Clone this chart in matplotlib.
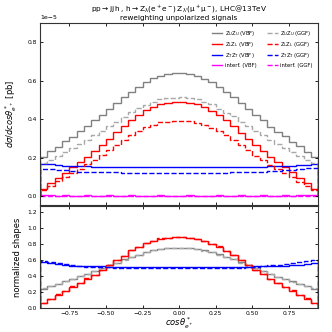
import numpy as np
import matplotlib
matplotlib.use("Agg")
import matplotlib.pyplot as plt

# 38 bins of width 0.05 over cos(theta*) in [-0.95, 0.95]
edges = np.linspace(-0.95, 0.95, 39)

# dsigma/dcos [1e-5 pb]
zuzu_vbf = [0.205, 0.232, 0.257, 0.284, 0.309, 0.336, 0.362, 0.395, 0.421, 0.455,
            0.483, 0.515, 0.541, 0.567, 0.594, 0.612, 0.627, 0.637, 0.641,
            0.640, 0.636, 0.626, 0.610, 0.592, 0.569, 0.543, 0.517, 0.484, 0.454,
            0.422, 0.394, 0.361, 0.335, 0.311, 0.283, 0.258, 0.231, 0.204]
zlzl_vbf = [0.038, 0.066, 0.094, 0.121, 0.149, 0.175, 0.204, 0.232, 0.264, 0.296,
            0.331, 0.362, 0.397, 0.423, 0.446, 0.463, 0.478, 0.485, 0.490,
            0.489, 0.486, 0.477, 0.461, 0.444, 0.424, 0.395, 0.364, 0.330, 0.298,
            0.263, 0.233, 0.202, 0.176, 0.148, 0.122, 0.093, 0.067, 0.037]
ztzt_vbf = [0.168, 0.164, 0.161, 0.158, 0.156, 0.155, 0.154, 0.153, 0.153, 0.152,
            0.152, 0.151, 0.151, 0.151, 0.150, 0.152, 0.151, 0.150, 0.150,
            0.151, 0.150, 0.151, 0.150, 0.150, 0.151, 0.151, 0.152, 0.152, 0.152,
            0.153, 0.153, 0.154, 0.154, 0.155, 0.157, 0.159, 0.162, 0.166]
intf_vbf = [0.002, 0.002, 0.001, 0.002, 0.001, 0.001, 0.002, 0.001, 0.001, 0.002,
            0.001, 0.001, 0.002, 0.001, 0.001, 0.001, 0.002, 0.001, 0.001,
            0.001, 0.002, 0.001, 0.001, 0.001, 0.002, 0.001, 0.001, 0.002, 0.001,
            0.001, 0.002, 0.001, 0.001, 0.002, 0.001, 0.002, 0.002, 0.002]

zuzu_ggf = [0.170, 0.188, 0.208, 0.229, 0.249, 0.270, 0.291, 0.318, 0.339, 0.366,
            0.387, 0.413, 0.436, 0.456, 0.475, 0.491, 0.503, 0.510, 0.512,
            0.513, 0.509, 0.504, 0.490, 0.477, 0.455, 0.434, 0.415, 0.387, 0.365,
            0.340, 0.316, 0.290, 0.268, 0.250, 0.227, 0.209, 0.189, 0.172]
zlzl_ggf = [0.031, 0.052, 0.076, 0.097, 0.120, 0.140, 0.164, 0.185, 0.212, 0.237,
            0.265, 0.289, 0.318, 0.338, 0.357, 0.369, 0.384, 0.386, 0.392,
            0.391, 0.388, 0.382, 0.371, 0.355, 0.340, 0.316, 0.291, 0.263, 0.239,
            0.210, 0.186, 0.162, 0.141, 0.119, 0.098, 0.074, 0.054, 0.030]
ztzt_ggf = [0.141, 0.139, 0.136, 0.133, 0.130, 0.127, 0.125, 0.124, 0.123, 0.123,
            0.122, 0.121, 0.121, 0.120, 0.120, 0.120, 0.120, 0.121, 0.120,
            0.120, 0.120, 0.121, 0.120, 0.120, 0.121, 0.121, 0.122, 0.122, 0.123,
            0.125, 0.127, 0.129, 0.131, 0.134, 0.137, 0.140, 0.143, 0.146]
intf_ggf = [0.000, 0.001, 0.000, -0.001, 0.000, 0.001, 0.000, 0.000, -0.001, 0.000,
            0.001, 0.000, 0.000, -0.001, 0.000, 0.000, 0.001, 0.000, 0.000,
            0.000, 0.000, 0.001, 0.000, 0.000, -0.001, 0.000, 0.000, 0.001, 0.000,
            -0.001, 0.000, 0.000, 0.001, 0.000, -0.001, 0.000, 0.001, 0.000]

series = [
    (zuzu_vbf, r'$\mathrm{Z_UZ_U}$ (VBF)', 'gray', '-'),
    (zlzl_vbf, r'$\mathrm{Z_LZ_L}$ (VBF)', 'red', '-'),
    (ztzt_vbf, r'$\mathrm{Z_TZ_T}$ (VBF)', 'blue', '-'),
    (intf_vbf, 'interf. (VBF)', 'magenta', '-'),
    (zuzu_ggf, r'$\mathrm{Z_UZ_U}$ (GGF)', '#a8a8a8', '--'),
    (zlzl_ggf, r'$\mathrm{Z_LZ_L}$ (GGF)', 'red', '--'),
    (ztzt_ggf, r'$\mathrm{Z_TZ_T}$ (GGF)', 'blue', '--'),
    (intf_ggf, 'interf. (GGF)', 'magenta', '--'),
]

fig = plt.figure(figsize=(3.32, 3.32), dpi=100)
ax1 = fig.add_axes([0.1205, 0.384, 0.838, 0.546])
ax2 = fig.add_axes([0.1205, 0.0714, 0.838, 0.3095])

width = np.diff(edges)
for vals, lab, col, ls in series:
    v = np.array(vals) * 1e-5
    ax1.stairs(v, edges, color=col, ls=ls, lw=1.0, label=lab)
    if 'interf' in lab:
        continue
    norm = np.array(vals) / (np.sum(np.array(vals) * width))
    ax2.stairs(norm, edges, color=col, ls=ls, lw=1.0)

ax1.set_xlim(-0.95, 0.95)
ax1.set_ylim(-0.045e-5, 0.9e-5)
ax1.set_yticks(np.array([0.0, 0.2, 0.4, 0.6, 0.8]) * 1e-5)
ax1.ticklabel_format(axis='y', style='sci', scilimits=(-5, -5))
ax1.yaxis.get_offset_text().set_fontsize(4.5)
ax1.set_xticks([-0.75, -0.5, -0.25, 0, 0.25, 0.5, 0.75])
ax1.tick_params(labelbottom=False)
ax1.set_ylabel(r'$d\sigma/dcos\theta^*_{e^+}$ [pb]', fontsize=6, labelpad=6)
ax1.legend(ncol=2, loc='upper right', fontsize=3.8, frameon=False,
           handlelength=2.0, handletextpad=0.5, columnspacing=2.0,
           labelspacing=0.45, borderaxespad=0.6)
ax1.set_title(r'$\mathrm{pp\rightarrow jj\,h\,,\,h\rightarrow Z_{\lambda}(e^+e^-)\,Z_{\lambda^{\prime}}(\mu^+\mu^-)}$, LHC@13TeV'
              '\nreweighting unpolarized signals', fontsize=5.3, pad=2, linespacing=1.0)

ax2.set_xlim(-0.95, 0.95)
ax2.set_ylim(0, 1.28)
ax2.set_yticks([0.0, 0.2, 0.4, 0.6, 0.8, 1.0, 1.2])
ax2.set_xticks([-0.75, -0.5, -0.25, 0, 0.25, 0.5, 0.75])
ax2.set_xlabel(r'$cos\theta^*_{e^+}$', fontsize=6, labelpad=0)
ax2.set_ylabel('normalized shapes', fontsize=6, labelpad=4)

for ax in (ax1, ax2):
    ax.tick_params(direction='in', top=True, right=True, labelsize=4.3,
                   length=2.5, width=0.6, pad=2)
    for s in ax.spines.values():
        s.set_linewidth(0.8)
        s.set_color('#333333')

fig.savefig('out.png', dpi=100)
